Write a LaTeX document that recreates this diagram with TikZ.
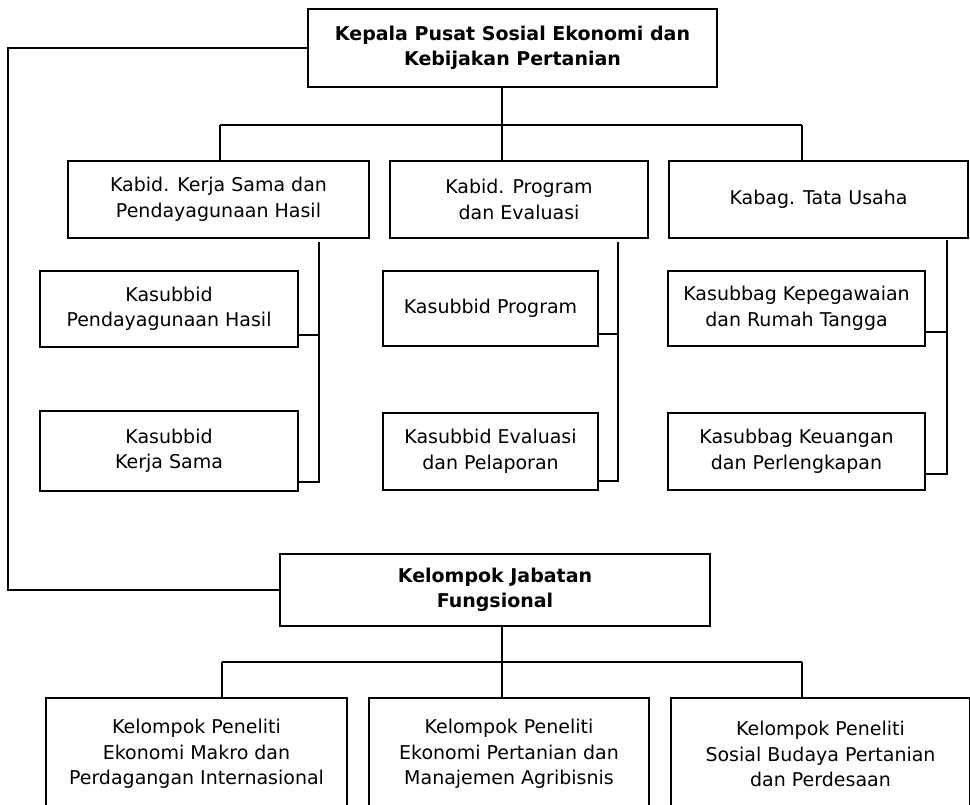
\documentclass[tikz,border=0pt]{standalone}
\usepackage{fontspec}
\setmainfont{DejaVu Sans}
\begin{document}
\begin{tikzpicture}[x=1pt,y=-1pt,
  box/.style={draw=black, line width=1.8pt, rectangle, align=center, inner sep=0pt,
    font=\fontsize{19}{25.5}\selectfont},
  boldbox/.style={box, font=\fontsize{19}{25.5}\selectfont\bfseries},
  conn/.style={draw=black, line width=1.8pt}]
\useasboundingbox (0,0) rectangle (970,805);
\fill[white] (0,0) rectangle (970,805);
\clip (0,0) rectangle (970,805);
% top
\node[boldbox, minimum width=409pt, minimum height=78pt] (top) at (512.5,48) {Kepala Pusat Sosial Ekonomi dan\\Kebijakan Pertanian};
% row 1
\node[box, minimum width=301pt, minimum height=77pt] (b1) at (218.5,199.5) {Kabid. Kerja Sama dan\\Pendayagunaan Hasil};
\node[box, minimum width=258pt, minimum height=77pt] (b2) at (519,199.5) {Kabid. Program\\dan Evaluasi};
\node[box, minimum width=299pt, minimum height=77pt] (b3) at (818.5,199.5) {Kabag. Tata Usaha};
% sub col 1
\node[box, minimum width=258pt, minimum height=76pt] (s1a) at (169,309) {Kasubbid\\Pendayagunaan Hasil};
\node[box, minimum width=258pt, minimum height=80pt] (s1b) at (169,451) {Kasubbid\\Kerja Sama};
% sub col 2
\node[box, minimum width=215pt, minimum height=75pt] (s2a) at (490.5,308.5) {Kasubbid Program};
\node[box, minimum width=215pt, minimum height=77pt] (s2b) at (490.5,451.5) {Kasubbid Evaluasi\\dan Pelaporan};
% sub col 3
\node[box, minimum width=257pt, minimum height=75pt] (s3a) at (796.5,308.5) {Kasubbag Kepegawaian\\dan Rumah Tangga};
\node[box, minimum width=257pt, minimum height=77pt] (s3b) at (796.5,451.5) {Kasubbag Keuangan\\dan Perlengkapan};
% kelompok
\node[boldbox, minimum width=430pt, minimum height=72pt] (kel) at (495,590) {Kelompok Jabatan\\Fungsional};
% bottom row
\node[box, minimum width=301pt, minimum height=112pt] (k1) at (196.5,754) {Kelompok Peneliti\\Ekonomi Makro dan\\Perdagangan Internasional};
\node[box, minimum width=280pt, minimum height=112pt] (k2) at (509,754) {Kelompok Peneliti\\Ekonomi Pertanian dan\\Manajemen Agribisnis};
\node[box, minimum width=299pt, minimum height=112pt] (k3) at (820.5,754) {Kelompok Peneliti\\Sosial Budaya Pertanian\\dan Perdesaan};
% coordinates
\coordinate (lx) at (8,48);
\coordinate (busL) at (220,125);
\coordinate (busM) at (502,125);
\coordinate (busR) at (802,125);
\coordinate (v1t) at (319,242);
\coordinate (v1a) at (319,335);
\coordinate (v1b) at (319,482);
\coordinate (v2t) at (618,242);
\coordinate (v2a) at (618,334);
\coordinate (v2b) at (618,481);
\coordinate (v3t) at (947,240);
\coordinate (v3a) at (947,332);
\coordinate (v3b) at (947,474);
\coordinate (kbL) at (222,662);
\coordinate (kbM) at (502,662);
\coordinate (kbR) at (802,662);
% connectors
\draw[conn] (top.west) -- (lx) |- (kel.west);
\draw[conn] (busL) -- (busR);
\draw[conn] (busM |- top.south) -- (busM) -- (busM |- b2.north);
\draw[conn] (busL) -- (busL |- b1.north);
\draw[conn] (busR) -- (busR |- b3.north);
\draw[conn] (v1t) -- (v1b) -- (v1b -| s1b.east);
\draw[conn] (v1a -| s1a.east) -- (v1a);
\draw[conn] (v2t) -- (v2b) -- (v2b -| s2b.east);
\draw[conn] (v2a -| s2a.east) -- (v2a);
\draw[conn] (v3t) -- (v3b) -- (v3b -| s3b.east);
\draw[conn] (v3a -| s3a.east) -- (v3a);
\draw[conn] (kbM |- kel.south) -- (kbM) -- (kbM |- k2.north);
\draw[conn] (kbL) -- (kbR);
\draw[conn] (kbL) -- (kbL |- k1.north);
\draw[conn] (kbR) -- (kbR |- k3.north);
\end{tikzpicture}
\end{document}
